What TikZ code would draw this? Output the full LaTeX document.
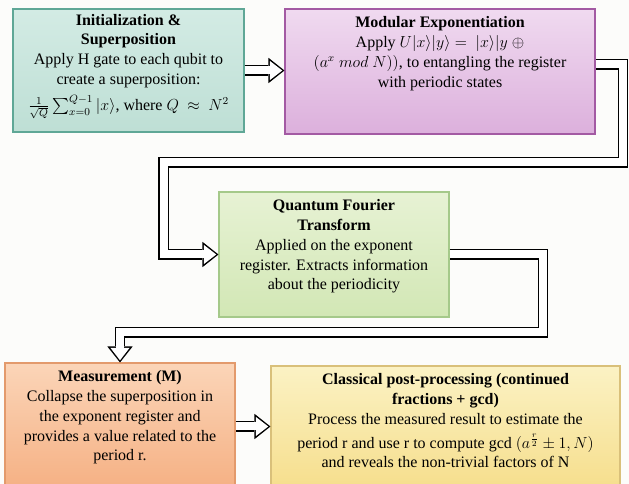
\documentclass[tikz,border=0pt]{standalone}
\usepackage{fontspec}
\setmainfont{Liberation Serif}
\usepackage{amsmath}
\usetikzlibrary{arrows.meta, positioning}
\usepackage{xcolor}

\definecolor{bgpaper}{HTML}{FCFCFA}
\definecolor{initTop}{HTML}{D3EBE4}
\definecolor{initBot}{HTML}{BEDFD5}
\definecolor{initLine}{HTML}{5FA796}
\definecolor{modTop}{HTML}{F0DAF0}
\definecolor{modBot}{HTML}{DCB0DC}
\definecolor{modLine}{HTML}{A35AA3}
\definecolor{qftTop}{HTML}{E7F2D4}
\definecolor{qftBot}{HTML}{D2E7B5}
\definecolor{qftLine}{HTML}{A5C98A}
\definecolor{measTop}{HTML}{FBD5B8}
\definecolor{measBot}{HTML}{F5B083}
\definecolor{measLine}{HTML}{E39A6C}
\definecolor{postTop}{HTML}{FBF2C4}
\definecolor{postBot}{HTML}{F6DE8C}
\definecolor{postLine}{HTML}{D9C07A}

\tikzset{
    stage/.style={rectangle, draw, line width=0.8pt, inner sep=0pt},
    stagetext/.style={align=center, inner sep=2pt, font=\fontsize{12}{14.8}\selectfont},
    hollow/.style={draw=white, line width=6pt, shorten >=1.64pt,
        -{Triangle[length=9.36pt, width=14.4pt, line width=0pt]},
        preaction={draw=black, line width=8.2pt, shorten >=0pt,
            -{Triangle[length=12pt, width=19pt, line width=0pt]}}}
}

\begin{document}
\begin{tikzpicture}[x=0.75pt, y=-0.75pt]
    % Paper
    \fill[bgpaper] (0,0) rectangle (629,484);
    \useasboundingbox (0,0) rectangle (629,484);

    % Draw the stage boxes
    \node[stage, draw=initLine, top color=initTop, bottom color=initBot,
          minimum width=173.25pt, minimum height=92.25pt] (init) at (128.5,70.5) {};
    \node[stage, draw=modLine, top color=modTop, bottom color=modBot,
          minimum width=232.5pt, minimum height=93.75pt] (modexp) at (440,71.5) {};
    \node[stage, draw=qftLine, top color=qftTop, bottom color=qftBot,
          minimum width=172.5pt, minimum height=93.75pt] (qft) at (334,254.5) {};
    \node[stage, draw=measLine, top color=measTop, bottom color=measBot,
          minimum width=172.5pt, minimum height=95.25pt] (meas) at (120,426.5) {};
    \node[stage, draw=postLine, top color=postTop, bottom color=postBot,
          minimum width=261.75pt, minimum height=93pt] (post) at (445.5,428) {};

    % Texts of the boxes
    \node[stagetext, below=2pt of init.north] (initText)
        {\textbf{Initialization \&}\\ \textbf{Superposition}\\
         Apply H gate to each qubit to\\ create a superposition:\\[5pt]
         $\frac{1}{\sqrt{Q}}\sum_{x=0}^{Q-1}|x\rangle$, where $Q\ \approx\ N^{2}$};
    \node[stagetext, below=4pt of modexp.north] (modexpText)
        {\textbf{Modular Exponentiation}\\
         Apply $U|x\rangle|y\rangle =\ |x\rangle|y\ \oplus$\\
         $(a^{x}\ mod\ N))$, to entangling the register\\ with periodic states};
    \node[stagetext, below=4pt of qft.north] (qftText)
        {\textbf{Quantum Fourier}\\ \textbf{Transform}\\
         Applied on the exponent\\ register. Extracts information\\ about the periodicity};
    \node[stagetext, below=4pt of meas.north] (measText)
        {\textbf{Measurement (M)}\\ Collapse the superposition in\\
         the exponent register and\\ provides a value related to the\\ period r.};
    \node[stagetext, below=4pt of post.north] (postText)
        {\textbf{Classical post-processing (continued}\\ \textbf{fractions + gcd)}\\
         Process the measured result to estimate the\\[3pt]
         period r and use r to compute gcd $(a^{\frac{r}{2}} \pm 1, N)$\\
         and reveals the non-trivial factors of N};

    % Corner points of the long connectors
    \coordinate (r1) at (623,162.5);
    \coordinate (l1) at (163.5,254.5);
    \coordinate (r2) at (543,332.5);

    % Draw the hollow arrows
    \draw[hollow] (init.east) -- (init.east -| modexp.west);
    \draw[hollow] ([yshift=5.25pt]modexp.east) -| (r1) -| (l1) -- (qft.west);
    \draw[hollow] (qft.east) -| (r2) -| (meas.north);
    \draw[hollow] (meas.east) -- (meas.east -| post.west);
\end{tikzpicture}
\end{document}
